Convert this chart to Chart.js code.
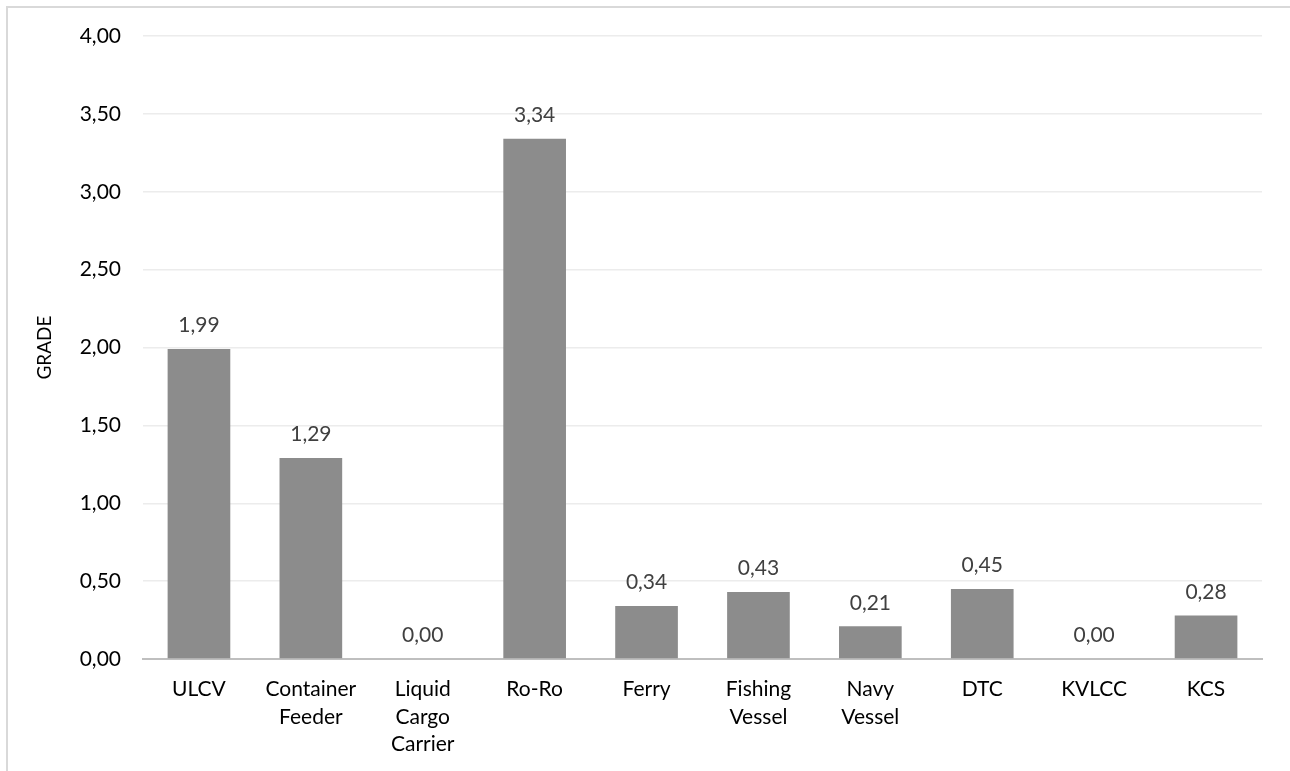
<!DOCTYPE html>
<html>
<head>
<meta charset="utf-8">
<script src="https://cdn.jsdelivr.net/npm/chart.js@4/dist/chart.umd.min.js"></script>
<style>
  html, body { margin: 0; padding: 0; background: #fff; overflow: hidden; }
  #frame {
    position: absolute; left: 6px; top: 6px; width: 1400px; height: 900px;
    border-left: 2px solid #d9d9d9; border-top: 2px solid #d9d9d9;
  }
  #wrap { position: absolute; left: 0; top: 0; width: 1290px; height: 771px; }
</style>
</head>
<body>
<div id="frame"></div>
<div id="wrap"><canvas id="chart" width="1290" height="771"></canvas></div>
<script>
// Vessel categories (multi-line labels) and their grades
const categories = [
  ["ULCV"],
  ["Container", "Feeder"],
  ["Liquid", "Cargo", "Carrier"],
  ["Ro-Ro"],
  ["Ferry"],
  ["Fishing", "Vessel"],
  ["Navy", "Vessel"],
  ["DTC"],
  ["KVLCC"],
  ["KCS"]
];
const grades = [1.99, 1.29, 0.00, 3.34, 0.34, 0.43, 0.21, 0.45, 0.00, 0.28];
const yTicks = [0, 0.5, 1, 1.5, 2, 2.5, 3, 3.5, 4];

const FONT = "Lato, 'Open Sans', sans-serif";
const fmt = v => v.toFixed(2).replace('.', ',');

// Value labels drawn above each bar
const valueLabels = {
  id: 'valueLabels',
  afterDatasetsDraw(chart) {
    const ctx = chart.ctx;
    const meta = chart.getDatasetMeta(0);
    ctx.save();
    ctx.font = "21px " + FONT;
    ctx.fillStyle = '#404040';
    ctx.textAlign = 'center';
    ctx.textBaseline = 'bottom';
    meta.data.forEach((bar, i) => {
      ctx.fillText(fmt(grades[i]), bar.x, bar.y - 13);
    });
    ctx.restore();
  }
};

new Chart(document.getElementById('chart'), {
  type: 'bar',
  data: {
    labels: categories,
    datasets: [{
      data: grades,
      backgroundColor: '#8c8c8c',
      borderWidth: 0,
      barPercentage: 0.56,
      categoryPercentage: 1.0
    }]
  },
  options: {
    responsive: false,
    animation: false,
    layout: { padding: { top: 36, right: 28, bottom: 0, left: 0 } },
    plugins: {
      legend: { display: false },
      tooltip: { enabled: false }
    },
    scales: {
      x: {
        grid: { display: false, drawTicks: false },
        border: { color: '#bfbfbf', width: 2 },
        ticks: {
          color: '#000',
          font: { family: FONT, size: 21, lineHeight: 1.3 },
          padding: 17,
          maxRotation: 0,
          autoSkip: false
        },
        afterFit(scale) { scale.height = 112; }
      },
      y: {
        min: 0,
        max: 4,
        afterBuildTicks(scale) { scale.ticks = yTicks.map(v => ({ value: v })); },
        grid: { color: '#ececec', lineWidth: 1.5, drawTicks: false },
        border: { display: false },
        ticks: {
          color: '#000',
          font: { family: FONT, size: 21 },
          padding: 22,
          callback: v => fmt(v)
        },
        title: {
          display: true,
          text: 'GRADE',
          color: '#000',
          font: { family: FONT, size: 19 },
          padding: { top: 33, bottom: 0 }
        },
        afterFit(scale) { scale.width = 143; }
      }
    }
  },
  plugins: [valueLabels]
});
</script>
</body>
</html>
